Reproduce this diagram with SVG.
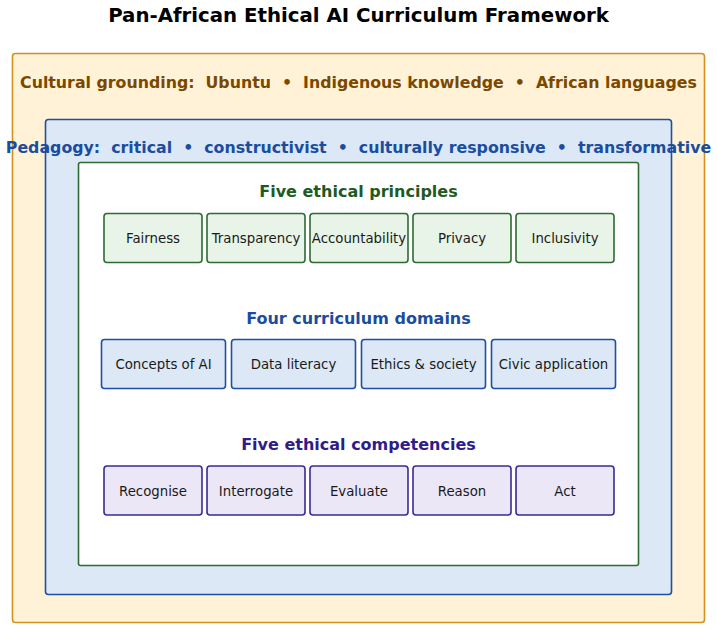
<svg xmlns="http://www.w3.org/2000/svg" width="717" height="632" viewBox="0 0 717 632">
<style>
text{font-family:"DejaVu Sans",sans-serif;text-anchor:middle}
.title{font-size:19.75px;font-weight:bold;fill:#000}
.band{font-size:15.8px;font-weight:bold;white-space:pre}
.head{font-size:16px;font-weight:bold}
.lbl{font-size:13.3px;fill:#1a1a1a}
.p{fill:#e7f4e7;stroke:#2e6b34;stroke-width:1.6}
.d{fill:#dce8f6;stroke:#1f4fa0;stroke-width:1.6}
.c{fill:#ece7f6;stroke:#3b2a92;stroke-width:1.6}
</style>
<rect width="717" height="632" fill="#fff"/>
<text class="title" x="358.5" y="22">Pan-African Ethical AI Curriculum Framework</text>
<g id="cultural">
<rect x="12.5" y="53.5" width="692" height="569" rx="3" fill="#fff2d6" stroke="#d4901f" stroke-width="1.6"/>
<text class="band" x="358.5" y="88" fill="#7a4800" xml:space="preserve">Cultural grounding:  Ubuntu  •  Indigenous knowledge  •  African languages</text>
</g>
<g id="pedagogy">
<rect x="45.5" y="119.5" width="626" height="475" rx="3" fill="#dce8f6" stroke="#1f4fa0" stroke-width="1.6"/>
<text class="band" x="358.5" y="153" fill="#1a4da0" xml:space="preserve">Pedagogy:  critical  •  constructivist  •  culturally responsive  •  transformative</text>
</g>
<g id="core">
<rect x="78.5" y="162.5" width="560" height="403" rx="2" fill="#fff" stroke="#2e6b34" stroke-width="1.6"/>
</g>
<g id="principles">
<text class="head" x="358.5" y="197" fill="#1e5a22">Five ethical principles</text>
<g id="p1"><rect class="p" x="104" y="213.5" width="98" height="49" rx="3"/><text class="lbl" x="153" y="243">Fairness</text></g>
<g id="p2"><rect class="p" x="207" y="213.5" width="98" height="49" rx="3"/><text class="lbl" x="256" y="243">Transparency</text></g>
<g id="p3"><rect class="p" x="310" y="213.5" width="98" height="49" rx="3"/><text class="lbl" x="359" y="243">Accountability</text></g>
<g id="p4"><rect class="p" x="413" y="213.5" width="98" height="49" rx="3"/><text class="lbl" x="462" y="243">Privacy</text></g>
<g id="p5"><rect class="p" x="516" y="213.5" width="98" height="49" rx="3"/><text class="lbl" x="565" y="243">Inclusivity</text></g>
</g>
<g id="domains">
<text class="head" x="358.5" y="324" fill="#1a4da0">Four curriculum domains</text>
<g id="d1"><rect class="d" x="101.5" y="339.5" width="124" height="49" rx="3"/><text class="lbl" x="163.5" y="369">Concepts of AI</text></g>
<g id="d2"><rect class="d" x="231.5" y="339.5" width="124" height="49" rx="3"/><text class="lbl" x="293.5" y="369">Data literacy</text></g>
<g id="d3"><rect class="d" x="361.5" y="339.5" width="124" height="49" rx="3"/><text class="lbl" x="423.5" y="369">Ethics &amp; society</text></g>
<g id="d4"><rect class="d" x="491.5" y="339.5" width="124" height="49" rx="3"/><text class="lbl" x="553.5" y="369">Civic application</text></g>
</g>
<g id="competencies">
<text class="head" x="358.5" y="450" fill="#2e1c8a">Five ethical competencies</text>
<g id="c1"><rect class="c" x="104" y="466" width="98" height="49" rx="3"/><text class="lbl" x="153" y="495.5">Recognise</text></g>
<g id="c2"><rect class="c" x="207" y="466" width="98" height="49" rx="3"/><text class="lbl" x="256" y="495.5">Interrogate</text></g>
<g id="c3"><rect class="c" x="310" y="466" width="98" height="49" rx="3"/><text class="lbl" x="359" y="495.5">Evaluate</text></g>
<g id="c4"><rect class="c" x="413" y="466" width="98" height="49" rx="3"/><text class="lbl" x="462" y="495.5">Reason</text></g>
<g id="c5"><rect class="c" x="516" y="466" width="98" height="49" rx="3"/><text class="lbl" x="565" y="495.5">Act</text></g>
</g>
<g id="connectors"/>
</svg>
